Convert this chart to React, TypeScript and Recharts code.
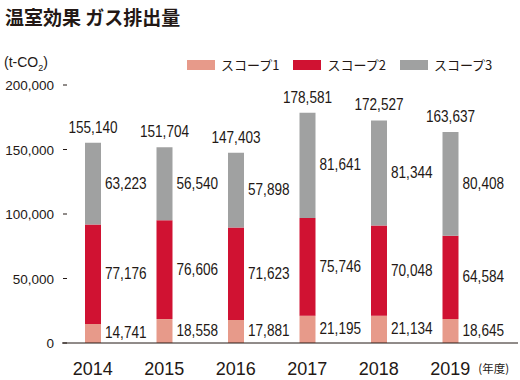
import { BarChart, Bar, XAxis, YAxis, LabelList } from "recharts";

const years = ["2014", "2015", "2016", "2017", "2018", "2019"];
const scope1 = [14741, 18558, 17881, 21195, 21134, 18645];
const scope2 = [77176, 76606, 71623, 75746, 70048, 64584];
const scope3 = [63223, 56540, 57898, 81641, 81344, 80408];
const totals = [155140, 151704, 147403, 178581, 172527, 163637];
const yTicks = [0, 50000, 100000, 150000, 200000];

const series = [
  { key: "s1", name: "スコープ1", color: "#e79a8a" },
  { key: "s2", name: "スコープ2", color: "#d01232" },
  { key: "s3", name: "スコープ3", color: "#a0a1a1" },
];

const data = years.map((year, i) => ({
  year,
  s1: scope1[i],
  s2: scope2[i],
  s3: scope3[i],
  total: totals[i],
}));

const ink = "#231815";
const latin = "'Liberation Sans', Arial, sans-serif";
const fmt = (v: any) => Number(v).toLocaleString("en-US");

// condensed-looking numbers: squeeze the text horizontally
const NarrowText = ({ x, y, anchor, children }: any) => (
  <text
    transform={`translate(${x},${y}) scale(0.8,1)`}
    textAnchor={anchor}
    fill={ink}
    fontSize={17}
    fontFamily={latin}
  >
    {children}
  </text>
);

const SideLabel = (props: any) => {
  const { x, y, width, height, value } = props;
  return (
    <NarrowText x={x + width + 4} y={y + height / 2 + 5} anchor="start">
      {fmt(value)}
    </NarrowText>
  );
};

const TopLabel = (props: any) => {
  const { x, y, width, value } = props;
  return (
    <NarrowText x={x + width / 2} y={y - 10} anchor="middle">
      {fmt(value)}
    </NarrowText>
  );
};

const YTick = (props: any) => {
  const { x, y, payload } = props;
  return (
    <g>
      <line x1={x + 1} x2={x + 5} y1={y} y2={y} stroke={ink} strokeWidth={1} />
      <text x={x - 8} y={y} dy={5} textAnchor="end" fill={ink} fontSize={13.5} fontFamily={latin}>
        {fmt(payload.value)}
      </text>
    </g>
  );
};

const XTick = (props: any) => {
  const { x, y, payload, index } = props;
  return (
    <g>
      <text x={x} y={y + 24} textAnchor="middle" fill={ink} fontSize={18} fontFamily={latin}>
        {payload.value}
      </text>
      {index === years.length - 1 && (
        <text x={x + 28} y={y + 22} fill={ink} fontSize={11.5} fontFamily="'Noto Sans CJK JP', sans-serif">
          (年度)
        </text>
      )}
    </g>
  );
};

export default function App() {
  return (
    <div style={{ position: "absolute", left: 0, top: 0, width: 520, height: 380, background: "#fff", color: ink }}>
      <div
        style={{
          position: "absolute",
          left: 5,
          top: 3,
          fontFamily: "'Noto Sans CJK JP', sans-serif",
          fontWeight: 700,
          fontSize: 19,
          whiteSpace: "pre",
        }}
      >
        温室効果 ガス排出量
      </div>
      <div style={{ position: "absolute", left: 4, top: 54, fontFamily: latin, fontSize: 14 }}>
        (t-CO<sub style={{ fontSize: 9 }}>2</sub>)
      </div>
      <div style={{ position: "absolute", left: 187, top: 55, display: "flex", alignItems: "center", whiteSpace: "nowrap" }}>
        {series.map((s) => (
          <div key={s.key} style={{ display: "flex", alignItems: "center", marginRight: 14 }}>
            <span style={{ display: "inline-block", width: 28, height: 10, background: s.color, marginRight: 6 }} />
            <span style={{ fontFamily: "'Noto Sans CJK JP', sans-serif", fontSize: 13 }}>{s.name}</span>
          </div>
        ))}
      </div>
      <BarChart
        width={520}
        height={380}
        data={data}
        margin={{ top: 85, right: 2, bottom: 0, left: 0 }}
        barSize={16}
        style={{ position: "absolute", left: 0, top: 0 }}
      >
        <XAxis
          dataKey="year"
          height={37}
          tickLine={false}
          axisLine={{ stroke: ink, strokeWidth: 1 }}
          padding={{ left: -5, right: 32 }}
          tick={<XTick />}
          interval={0}
        />
        <YAxis
          width={62}
          domain={[0, 200000]}
          ticks={yTicks}
          axisLine={false}
          tickLine={false}
          tickSize={0}
          tickMargin={0}
          tick={<YTick />}
        />
        {series.map((s) => (
          <Bar key={s.key} dataKey={s.key} stackId="a" fill={s.color} isAnimationActive={false}>
            <LabelList dataKey={s.key} content={<SideLabel />} />
            {s.key === "s3" && <LabelList dataKey="total" content={<TopLabel />} />}
          </Bar>
        ))}
      </BarChart>
    </div>
  );
}
